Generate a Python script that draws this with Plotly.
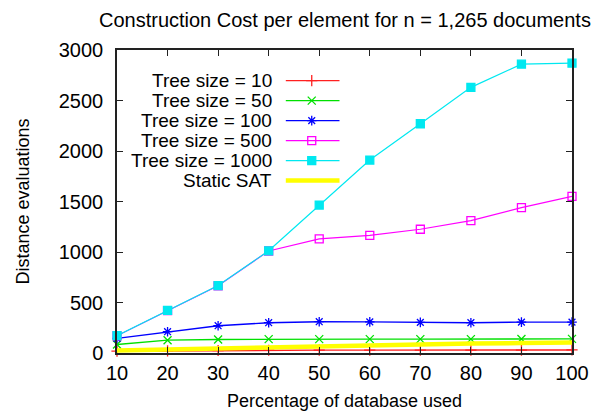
import plotly.graph_objects as go

# Percentage of the database used
pct = [10, 20, 30, 40, 50, 60, 70, 80, 90, 100]

# Distance evaluations per element during construction
tree_10 = [18, 22, 25, 27, 28, 28, 29, 29, 29, 30]
tree_50 = [84, 127, 134, 137, 137, 137, 137, 137, 138, 140]
tree_100 = [145, 211, 270, 300, 310, 308, 303, 300, 306, 306]
tree_500 = [170, 420, 665, 1010, 1130, 1165, 1225, 1310, 1440, 1550]
tree_1000 = [172, 422, 668, 1012, 1465, 1910, 2270, 2630, 2860, 2870]
static_sat = [25, 35, 48, 60, 72, 80, 87, 93, 98, 103]

series_names = ["Tree size = 10", "Tree size = 50", "Tree size = 100",
                "Tree size = 500", "Tree size = 1000", "Static SAT"]
series_values = [tree_10, tree_50, tree_100, tree_500, tree_1000, static_sat]

x_ticks = [10, 20, 30, 40, 50, 60, 70, 80, 90, 100]
y_ticks = [0, 500, 1000, 1500, 2000, 2500, 3000]

styles = [
    dict(color="#ff2020", symbol="cross-thin-open", size=8, width=1.4),
    dict(color="#00e000", symbol="x-thin-open", size=8, width=1.4),
    dict(color="#0000ff", symbol="asterisk-open", size=8, width=1.4),
    dict(color="#ff00ff", symbol="square-open", size=8, width=1.2),
    dict(color="#00e8f0", symbol="square", size=8, width=1.2),
    dict(color="#ffff00", symbol=None, size=0, width=4.5),
]

FONT = "Liberation Sans, Arial, sans-serif"

fig = go.Figure()

for name, vals, st in zip(series_names, series_values, styles):
    mode = "lines+markers" if st["symbol"] else "lines"
    marker = dict(symbol=st["symbol"], size=st["size"], color=st["color"],
                  line=dict(color=st["color"], width=1.3)) if st["symbol"] else None
    fig.add_trace(go.Scatter(
        x=pct, y=vals, mode=mode, name=name,
        line=dict(color=st["color"], width=st["width"]),
        marker=marker, cliponaxis=False, showlegend=False,
    ))

# gnuplot-style key: right-aligned labels with line samples to their right
key_rows = [0.899, 0.833, 0.767, 0.701, 0.635, 0.569]
key_text_x = 0.343
key_line = [0.371, 0.489]
key_mark_x = 0.428
for name, st, ky in zip(series_names, styles, key_rows):
    fig.add_annotation(x=key_text_x, y=ky, xref="paper", yref="paper",
                       text=name, showarrow=False, xanchor="right",
                       yanchor="middle", borderpad=0,
                       font=dict(family=FONT, size=19, color="#000"))
    fig.add_trace(go.Scatter(
        x=key_line, y=[ky, ky], xaxis="x2", yaxis="y2", mode="lines",
        line=dict(color=st["color"], width=st["width"]), showlegend=False,
        hoverinfo="skip"))
    if st["symbol"]:
        fig.add_trace(go.Scatter(
            x=[key_mark_x], y=[ky], xaxis="x2", yaxis="y2", mode="markers",
            marker=dict(symbol=st["symbol"], size=st["size"], color=st["color"],
                        line=dict(color=st["color"], width=1.3)),
            showlegend=False, hoverinfo="skip"))

axis_common = dict(showgrid=False, zeroline=False, showline=True,
                   linecolor="#222", linewidth=1.5, mirror="allticks",
                   ticks="inside", ticklen=6, tickwidth=1.2, tickcolor="#222",
                   automargin=False,
                   tickfont=dict(family=FONT, size=20, color="#000"))

fig.update_layout(
    width=602, height=416,
    margin=dict(l=117, r=30, t=50, b=63),
    paper_bgcolor="white", plot_bgcolor="white",
    title=dict(text="Construction Cost per element for n = 1,265 documents",
               x=0.573, xanchor="center", y=0.952, yanchor="middle",
               font=dict(family=FONT, size=20, color="#000")),
    xaxis=dict(range=[10, 100], tickvals=x_ticks, ticklabelstandoff=1,
               **axis_common,
               title=dict(text="Percentage of database used", standoff=12,
                          font=dict(family=FONT, size=18, color="#000"))),
    yaxis=dict(range=[0, 3000], tickvals=y_ticks, ticklabelstandoff=8,
               **axis_common,
               title=dict(text="Distance evaluations", standoff=24,
                          font=dict(family=FONT, size=18, color="#000"))),
    xaxis2=dict(range=[0, 1], overlaying="x", visible=False, fixedrange=True),
    yaxis2=dict(range=[0, 1], overlaying="y", visible=False, fixedrange=True),
    showlegend=False,
)

fig.write_html("out.html")
